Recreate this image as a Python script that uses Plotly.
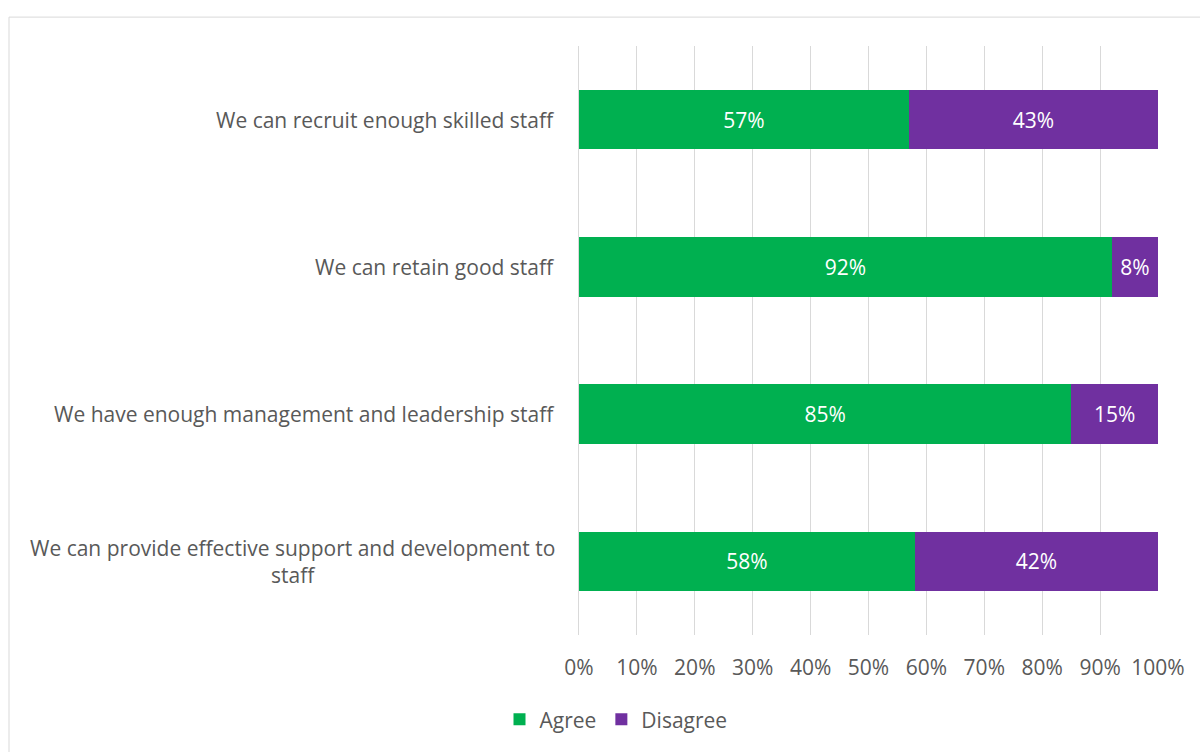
import plotly.graph_objects as go

# Survey statements and response shares (%)
statements = [
    "We can recruit enough skilled staff",
    "We can retain good staff",
    "We have enough management and leadership staff",
    "We can provide effective support and development to<br>staff",
]
agree = [57, 92, 85, 58]
disagree = [43, 8, 15, 42]
tick_vals = [0, 10, 20, 30, 40, 50, 60, 70, 80, 90, 100]
tick_text = [f"{v}%" for v in tick_vals]

GREEN = "#00B050"
PURPLE = "#7030A0"
GREY_TEXT = "#595959"
FONT = "Open Sans"
FS = 21

W, H = 1200, 752
L, R, T, B = 579, 42, 46, 115

fig = go.Figure()
fig.add_trace(go.Bar(
    name="Agree", y=statements, x=agree, orientation="h",
    marker=dict(color=GREEN, line=dict(width=0)),
    text=[f"{v}%" for v in agree], textposition="inside",
    insidetextanchor="middle",
    textfont=dict(color="white", size=FS, family=FONT),
))
fig.add_trace(go.Bar(
    name="Disagree", y=statements, x=disagree, orientation="h",
    marker=dict(color=PURPLE, line=dict(width=0)),
    text=[f"{v}%" for v in disagree], textposition="inside",
    insidetextanchor="middle",
    textfont=dict(color="white", size=FS, family=FONT),
))

# Category labels drawn as centred annotations so wrapped lines centre
annotations = []
for s in statements:
    annotations.append(dict(
        x=0, xref="paper", y=s, yref="y", text=s, showarrow=False,
        xanchor="right", xshift=-22, align="center",
        font=dict(size=FS, color=GREY_TEXT, family=FONT),
    ))

pw = W - L - R
ph = H - T - B
fig.update_layout(
    width=W, height=H,
    margin=dict(l=L, r=R, t=T, b=B),
    barmode="stack", bargap=0.595,
    paper_bgcolor="white", plot_bgcolor="white",
    font=dict(family=FONT, color=GREY_TEXT, size=FS),
    showlegend=True,
    legend=dict(
        orientation="h", x=(616 - L) / pw, xanchor="center",
        y=-(722 - (T + ph)) / ph, yanchor="middle",
        font=dict(size=FS, color=GREY_TEXT, family=FONT),
        itemwidth=30, traceorder="normal",
    ),
    xaxis=dict(
        range=[0, 100], tickvals=tick_vals, ticktext=tick_text,
        showgrid=True, gridcolor="#D9D9D9", gridwidth=1,
        zeroline=False, showline=False, ticks="",
        ticklabelstandoff=18,
        tickfont=dict(size=FS, color=GREY_TEXT, family=FONT),
        fixedrange=True,
    ),
    yaxis=dict(
        autorange="reversed", showticklabels=False, showgrid=False,
        zeroline=False, showline=True, linecolor="#D9D9D9", linewidth=1,
        ticks="",
    ),
    annotations=annotations,
    shapes=[dict(
        type="rect", xref="paper", yref="paper",
        x0=(9 - L) / pw, x1=(W + 5 - L) / pw,
        y0=-(H + 5 - (T + ph)) / ph, y1=1 + (T - 17) / ph,
        line=dict(color="#D9D9D9", width=1), fillcolor="rgba(0,0,0,0)",
        layer="below",
    )],
)

fig.write_html("out.html")
